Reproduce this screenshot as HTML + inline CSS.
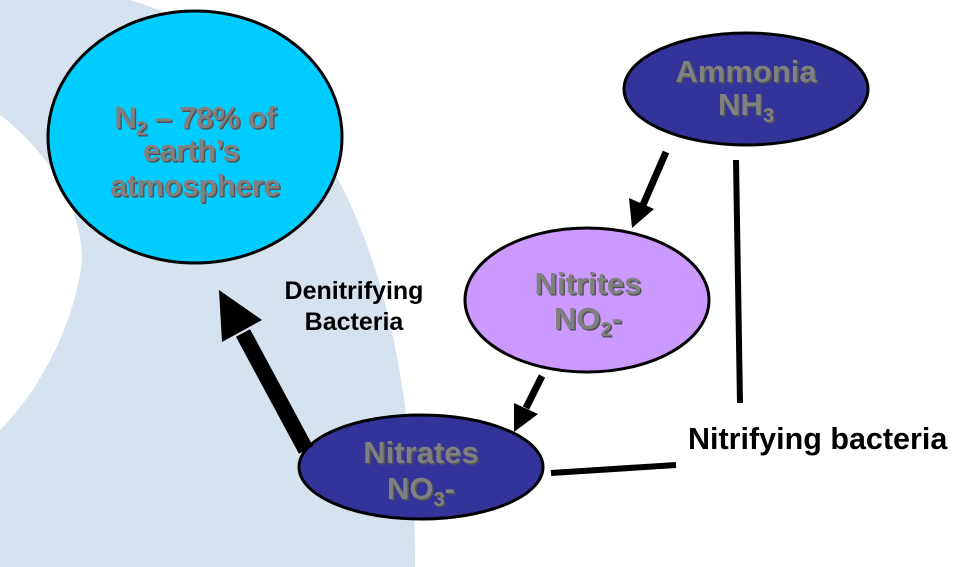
<!DOCTYPE html>
<html><head><meta charset="utf-8"><style>
html,body{margin:0;padding:0;background:#fff;}
svg{display:block;}
text{font-family:"Liberation Sans",Arial,sans-serif;font-weight:bold;}
.n{fill:#808080;font-size:31px;text-anchor:middle;}
.s{fill:#555;font-size:31px;text-anchor:middle;}
.c{letter-spacing:-0.6px;}
</style></head><body>
<svg width="975" height="567" viewBox="0 0 975 567">
<path d="M0,0 L130,0 C300,50 415,230 415,567 L0,567 Z" fill="#d6e2ee"/>
<path d="M0,115 C60,160 90,230 80,275 C70,330 40,390 0,430 Z" fill="#fff"/>
<ellipse cx="195" cy="137" rx="147" ry="126" fill="#00ccff" stroke="#000" stroke-width="3"/>
<ellipse cx="746" cy="89" rx="122" ry="56" fill="#333399" stroke="#000" stroke-width="3"/>
<ellipse cx="587" cy="300" rx="122" ry="72" fill="#cc99ff" stroke="#000" stroke-width="3"/>
<ellipse cx="421" cy="467" rx="122" ry="52" fill="#333399" stroke="#000" stroke-width="3"/>
<line x1="306" y1="450" x2="243" y2="333" stroke="#000" stroke-width="16"/>
<polygon points="219,290 262,320 222,342" fill="#000"/>
<line x1="666" y1="152" x2="643" y2="205" stroke="#000" stroke-width="7"/>
<polygon points="632,228 629,198 654,209" fill="#000"/>
<line x1="542" y1="376" x2="526" y2="408" stroke="#000" stroke-width="7"/>
<polygon points="514,432 514,403 538,414" fill="#000"/>
<line x1="736" y1="160" x2="740" y2="403" stroke="#000" stroke-width="6"/>
<line x1="551" y1="473" x2="676" y2="465" stroke="#000" stroke-width="6"/>
<g class="c">
<text class="s" x="196.5" y="129.5">N<tspan font-size="20" dy="7">2</tspan><tspan dy="-7"> – 78% of</tspan></text>
<text class="n" x="195" y="128">N<tspan font-size="20" dy="7">2</tspan><tspan dy="-7"> – 78% of</tspan></text>
<text class="s" x="192.5" y="162.5">earth’s</text>
<text class="n" x="191" y="161">earth’s</text>
<text class="s" x="196.5" y="197.5">atmosphere</text>
<text class="n" x="195" y="196">atmosphere</text>
</g>
<g>
<text class="s" x="747.5" y="83.5">Ammonia</text>
<text class="n" x="746" y="82">Ammonia</text>
<text class="s" x="747.5" y="116.5">NH<tspan font-size="20" dy="7">3</tspan></text>
<text class="n" x="746" y="115">NH<tspan font-size="20" dy="7">3</tspan></text>
<text class="s" x="589.5" y="295.5">Nitrites</text>
<text class="n" x="588" y="294">Nitrites</text>
<text class="s" x="589.5" y="330.5">NO<tspan font-size="20" dy="7">2</tspan><tspan dy="-7">-</tspan></text>
<text class="n" x="588" y="329">NO<tspan font-size="20" dy="7">2</tspan><tspan dy="-7">-</tspan></text>
<text class="s" x="422.5" y="464.5">Nitrates</text>
<text class="n" x="421" y="463">Nitrates</text>
<text class="s" x="422.5" y="500.5">NO<tspan font-size="20" dy="7">3</tspan><tspan dy="-7">-</tspan></text>
<text class="n" x="421" y="499">NO<tspan font-size="20" dy="7">3</tspan><tspan dy="-7">-</tspan></text>
</g>
<text x="354" y="299" font-size="25" fill="#000" text-anchor="middle">Denitrifying</text>
<text x="354" y="330" font-size="25" fill="#000" text-anchor="middle">Bacteria</text>
<text x="688" y="449" font-size="30.5" fill="#000">Nitrifying bacteria</text>
</svg>
</body></html>
